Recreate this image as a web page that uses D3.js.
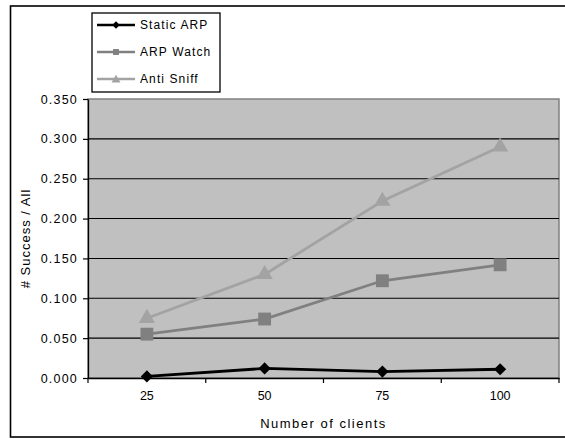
<!DOCTYPE html>
<html><head><meta charset="utf-8">
<script src="https://cdn.jsdelivr.net/npm/d3@7"></script>
<style>body{margin:0;background:#fff}svg{display:block;font-family:"Liberation Sans",Arial,sans-serif}</style>
</head><body><svg id="c" width="565" height="439"></svg>
<script>
const categories = ["25", "50", "75", "100"];
const staticARP = [0.002, 0.012, 0.008, 0.011];
const arpWatch = [0.055, 0.074, 0.122, 0.142];
const antiSniff = [0.075, 0.130, 0.222, 0.290];
const yTicks = [0, 0.05, 0.1, 0.15, 0.2, 0.25, 0.3, 0.35];
const seriesNames = ["Static ARP", "ARP Watch", "Anti Sniff"];

const series = [
  {name: seriesNames[0], values: staticARP, color: "#000000", marker: "diamond"},
  {name: seriesNames[1], values: arpWatch, color: "#808080", marker: "square"},
  {name: seriesNames[2], values: antiSniff, color: "#a3a3a3", marker: "triangle"}
];

const svg = d3.select("#c");
const L = 88, R = 559, T = 99, B = 378;
const FF = "Liberation Sans, Arial, sans-serif";

// outer border
svg.append("rect").attr("x", 10.5).attr("y", 6).attr("width", 570).attr("height", 431)
  .attr("fill", "#fff").attr("stroke", "#000").attr("stroke-width", 1.6);

const x = d3.scaleBand().domain(categories).range([L, R]);
const y = d3.scaleLinear().domain([0, 0.35]).range([B, T]);

// plot area
svg.append("rect").attr("x", L).attr("y", T).attr("width", R - L).attr("height", B - T)
  .attr("fill", "#c0c0c0").attr("stroke", "#808080").attr("stroke-width", 1.5);

// gridlines
svg.append("g").selectAll("line").data(yTicks.filter(d => d > 0 && d < 0.35)).join("line")
  .attr("x1", L).attr("x2", R).attr("y1", d => y(d)).attr("y2", d => y(d))
  .attr("stroke", "#000").attr("stroke-width", 1.1);

// y axis
const yAxis = svg.append("g").attr("transform", `translate(${L},0)`)
  .call(d3.axisLeft(y).tickValues(yTicks).tickFormat(d3.format(".3f")).tickSize(5).tickSizeOuter(0));
yAxis.select(".domain").attr("stroke", "#000").attr("stroke-width", 1.3);
yAxis.selectAll(".tick line").attr("stroke-width", 1.2);
yAxis.selectAll("text").attr("font-size", 12.5).attr("fill", "#000").attr("font-family", FF)
  .attr("letter-spacing", 1.2).attr("dx", -2);

// x axis
const xAxis = svg.append("g").attr("transform", `translate(0,${B})`)
  .call(d3.axisBottom(x).tickSize(0).tickSizeOuter(0));
xAxis.select(".domain").attr("stroke", "#000").attr("stroke-width", 1.3);
xAxis.selectAll("text").attr("font-size", 12.5).attr("fill", "#000").attr("dy", "1.55em").attr("font-family", FF);
// category boundary ticks
const bounds = categories.map(c => x(c)).concat([R]);
svg.append("g").selectAll("line").data(bounds).join("line")
  .attr("x1", d => d).attr("x2", d => d).attr("y1", B).attr("y2", B + 5)
  .attr("stroke", "#000").attr("stroke-width", 1.2);

// titles
svg.append("text").attr("x", (L + R) / 2).attr("y", 428).attr("text-anchor", "middle")
  .attr("font-size", 13).attr("letter-spacing", 1.5).text("Number of clients");
svg.append("text").attr("transform", `translate(30,${(T + B) / 2}) rotate(-90)`).attr("text-anchor", "middle")
  .attr("font-size", 13).attr("letter-spacing", 1).text("# Success / All");

const symType = {diamond: d3.symbolDiamond2 || d3.symbolDiamond, square: d3.symbolSquare, triangle: d3.symbolTriangle};
const symSize = {diamond: 95, square: 165, triangle: 115};

const line = d3.line().x((d, i) => x(categories[i]) + x.bandwidth() / 2).y(d => y(d));

// draw series in reverse so Static ARP on top
[...series].reverse().forEach(s => {
  svg.append("path").datum(s.values).attr("d", line).attr("fill", "none")
    .attr("stroke", s.color).attr("stroke-width", 2.8);
  svg.append("g").selectAll("path").data(s.values).join("path")
    .attr("d", d3.symbol().type(symType[s.marker]).size(symSize[s.marker])())
    .attr("transform", (d, i) => `translate(${x(categories[i]) + x.bandwidth() / 2},${y(d)})`)
    .attr("fill", s.color);
});

// legend
const lg = svg.append("g");
lg.append("rect").attr("x", 92).attr("y", 13).attr("width", 128).attr("height", 79)
  .attr("fill", "#fff").attr("stroke", "#000").attr("stroke-width", 1.3);
const ly = [25, 52, 79];
series.forEach((s, i) => {
  lg.append("line").attr("x1", 97).attr("x2", 135).attr("y1", ly[i]).attr("y2", ly[i])
    .attr("stroke", s.color).attr("stroke-width", 2.5);
  lg.append("path").attr("d", d3.symbol().type(symType[s.marker]).size(35)())
    .attr("transform", `translate(116,${ly[i] + (s.marker === "triangle" ? 1 : 0)})`).attr("fill", s.color);
  lg.append("text").attr("x", 140).attr("y", ly[i]).attr("dy", "0.35em")
    .attr("font-size", 12).attr("letter-spacing", 1.1).text(s.name);
});
</script></body></html>
